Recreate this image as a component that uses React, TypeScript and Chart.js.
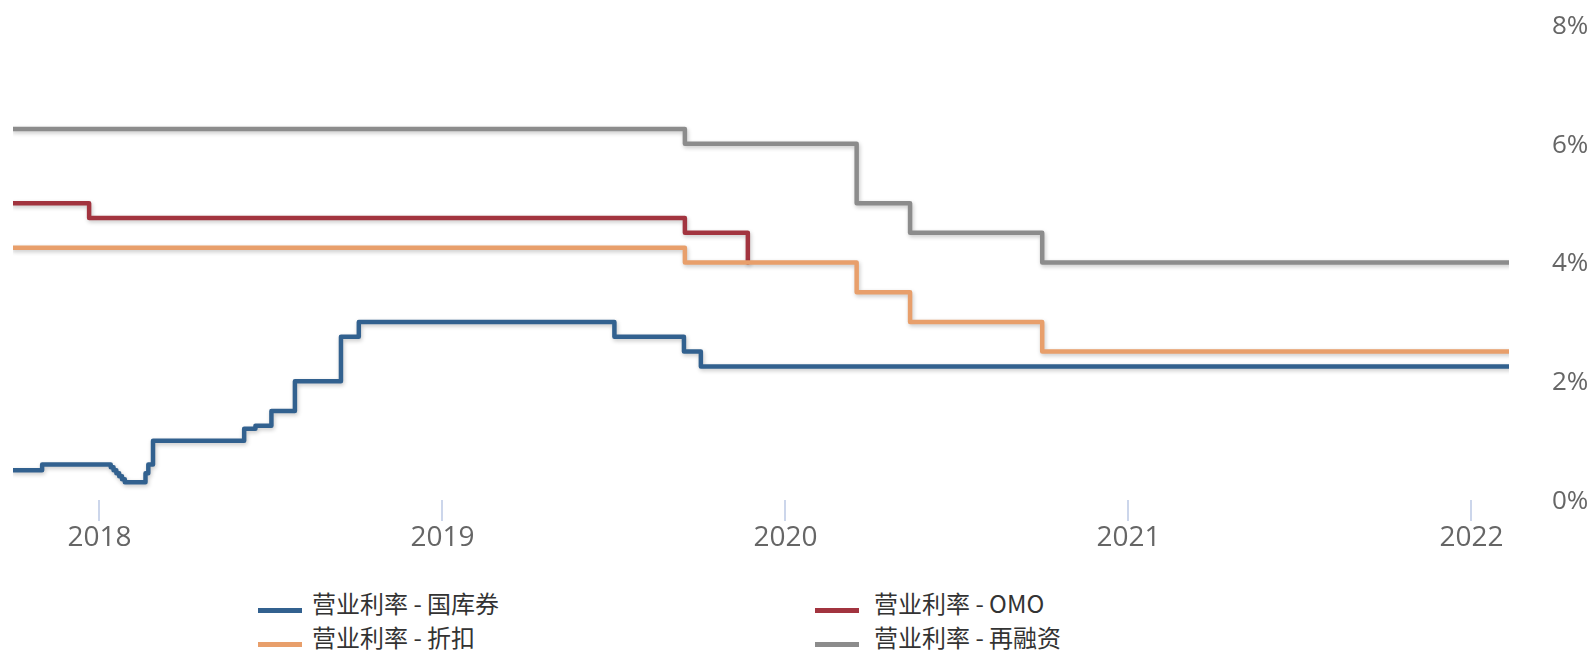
import React, { useEffect, useRef } from "react";
import { Chart, registerables } from "chart.js";

Chart.register(...registerables);

// ---- data ----
const seriesNames = ["营业利率 - 国库券", "营业利率 - OMO", "营业利率 - 折扣", "营业利率 - 再融资"];
const seriesColors = ["#32618f", "#a2343f", "#e89f6b", "#8c8c8c"];

const tbillDates = [
  "2017-10-01", "2017-11-01", "2018-01-13", "2018-01-16", "2018-01-19", "2018-01-22", "2018-01-25",
  "2018-01-28", "2018-02-19", "2018-02-22", "2018-02-27", "2018-06-04", "2018-06-16", "2018-07-03",
  "2018-07-28", "2018-09-15", "2018-10-04", "2019-07-03", "2019-09-15", "2019-10-03", "2022-02-10",
];
const tbillValues = [
  0.5, 0.6, 0.55, 0.5, 0.45, 0.4, 0.35,
  0.3, 0.45, 0.6, 1.0, 1.2, 1.25, 1.5,
  2.0, 2.75, 3.0, 2.75, 2.5, 2.25, 2.25,
];

const omoDates = ["2017-10-01", "2017-12-21", "2019-09-16", "2019-11-22"];
const omoValues = [5.0, 4.75, 4.5, 4.0];

const discountDates = ["2017-10-01", "2019-09-16", "2020-03-17", "2020-05-13", "2020-10-01", "2022-02-10"];
const discountValues = [4.25, 4.0, 3.5, 3.0, 2.5, 2.5];

const refinanceDates = ["2017-10-01", "2019-09-16", "2020-03-17", "2020-05-13", "2020-10-01", "2022-02-10"];
const refinanceValues = [6.25, 6.0, 5.0, 4.5, 4.0, 4.0];

const xTickYears = [2018, 2019, 2020, 2021, 2022];
const yTickValues = [0, 2, 4, 6, 8];

// ---- helpers ----
function toYear(s: string): number {
  const d = Date.parse(s + "T00:00:00Z");
  const y = new Date(d).getUTCFullYear();
  const a = Date.UTC(y, 0, 1);
  const b = Date.UTC(y + 1, 0, 1);
  return y + (d - a) / (b - a);
}
function pts(dates: string[], vals: number[]) {
  return dates.map((d, i) => ({ x: toYear(d), y: vals[i] }));
}

const W = 1591;
const H = 560;
const AXIS_FONT = "'Open Sans', 'DejaVu Sans', sans-serif";
const LEGEND_FONT = "'Noto Sans CJK SC', 'Noto Sans', sans-serif";

const legendItems = [
  { i: 0, lineX: 258, textX: 312, y: 610 },
  { i: 1, lineX: 815, textX: 874, y: 610 },
  { i: 2, lineX: 258, textX: 312, y: 644 },
  { i: 3, lineX: 815, textX: 874, y: 644 },
];

const shadowPlugin = {
  id: "lineShadow",
  beforeDatasetDraw(chart: any) {
    const ctx = chart.ctx;
    ctx.save();
    ctx.shadowColor = "rgba(0,0,0,0.22)";
    ctx.shadowBlur = 4;
    ctx.shadowOffsetX = 1;
    ctx.shadowOffsetY = 2;
  },
  afterDatasetDraw(chart: any) {
    chart.ctx.restore();
  },
};

export default function App() {
  const ref = useRef<HTMLCanvasElement | null>(null);

  useEffect(() => {
    if (!ref.current) return;
    const all = [
      pts(tbillDates, tbillValues),
      pts(omoDates, omoValues),
      pts(discountDates, discountValues),
      pts(refinanceDates, refinanceValues),
    ];
    const xMin = Math.min(...all.map((s) => s[0].x));
    const xMax = Math.max(...all.map((s) => s[s.length - 1].x));
    const chart = new Chart(ref.current, {
      type: "line",
      data: {
        datasets: all.map((data, i) => ({
          label: seriesNames[i],
          data,
          order: all.length - 1 - i,
          borderColor: seriesColors[i],
          backgroundColor: seriesColors[i],
          borderWidth: 4.5,
          stepped: "before" as const,
          pointRadius: 0,
          pointHoverRadius: 0,
          fill: false,
          borderJoinStyle: "round" as const,
          borderCapStyle: "round" as const,
        })),
      },
      options: {
        animation: false,
        responsive: false,
        events: [],
        layout: { padding: { left: 13, top: 25, right: 0, bottom: 0 } },
        plugins: {
          legend: { display: false },
          tooltip: { enabled: false },
        },
        scales: {
          x: {
            type: "linear",
            min: xMin,
            max: xMax,
            afterBuildTicks: (s: any) => {
              s.ticks = xTickYears.map((v) => ({ value: v }));
            },
            afterFit: (s: any) => {
              s.height = 60;
            },
            grid: {
              drawOnChartArea: false,
              drawTicks: true,
              tickLength: 21,
              color: "#ccd6eb",
              lineWidth: 2,
            },
            border: { display: false },
            ticks: {
              autoSkip: false,
              maxRotation: 0,
              padding: 0,
              color: "#666666",
              font: { family: AXIS_FONT, size: 28 },
              callback: (v: any) => String(v),
            },
          },
          y: {
            type: "linear",
            position: "right",
            min: 0,
            max: 8,
            afterBuildTicks: (s: any) => {
              s.ticks = yTickValues.map((v) => ({ value: v }));
            },
            afterFit: (s: any) => {
              s.width = 82;
            },
            grid: { display: false, drawTicks: true, tickLength: 43 },
            border: { display: false },
            ticks: {
              padding: 0,
              labelOffset: 1.5,
              color: "#666666",
              font: { family: AXIS_FONT, size: 26 },
              callback: (v: any) => v + "%",
            },
          },
        },
      },
      plugins: [shadowPlugin],
    });
    return () => chart.destroy();
  }, []);

  return (
    <div
      style={{
        position: "fixed",
        left: 0,
        top: 0,
        width: W,
        height: 651,
        overflow: "hidden",
        background: "#ffffff",
      }}
    >
      <canvas ref={ref} width={W} height={H} style={{ position: "absolute", left: 0, top: 0, width: W, height: H }} />
      {legendItems.map((it) => (
        <React.Fragment key={it.i}>
          <div
            style={{
              position: "absolute",
              left: it.lineX,
              top: it.y - 2,
              width: 44,
              height: 4.5,
              background: seriesColors[it.i],
            }}
          />
          <div
            style={{
              position: "absolute",
              left: it.textX,
              top: it.y - 7 - 16,
              height: 32,
              lineHeight: "32px",
              fontSize: 24,
              fontFamily: LEGEND_FONT,
              color: "#333333",
              whiteSpace: "nowrap",
            }}
          >
            {seriesNames[it.i]}
          </div>
        </React.Fragment>
      ))}
    </div>
  );
}
